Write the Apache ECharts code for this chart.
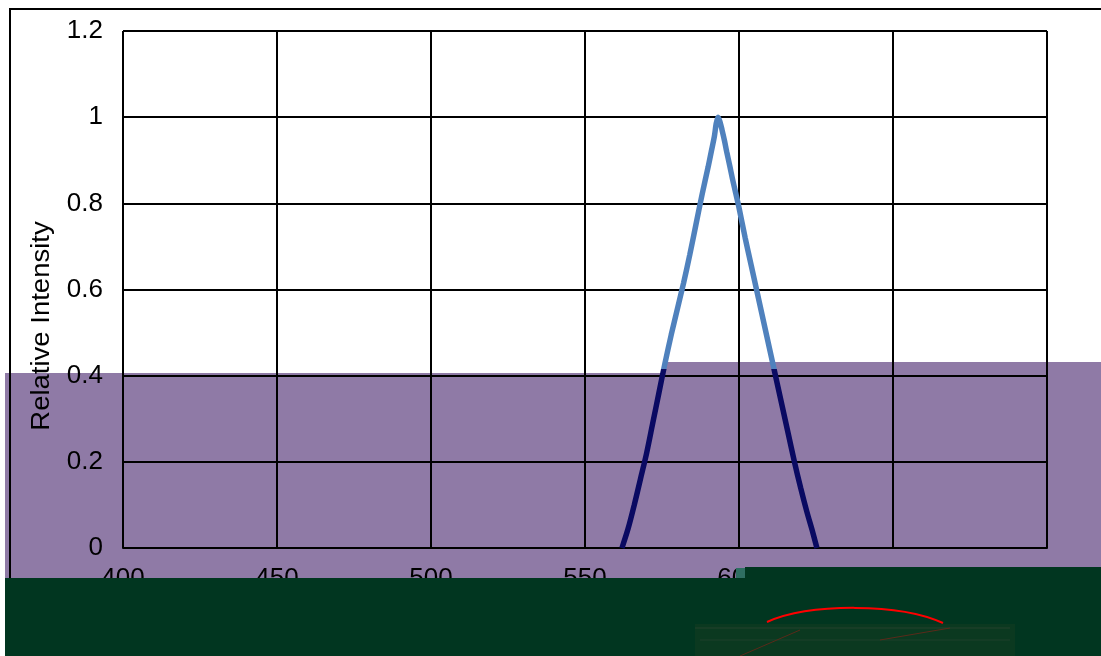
<!DOCTYPE html>
<html>
<head>
<meta charset="utf-8">
<script src="https://cdn.jsdelivr.net/npm/echarts@6/dist/echarts.min.js"></script>
<style>html,body{margin:0;padding:0;background:#fff}#c{width:1101px;height:656px}</style>
</head>
<body>
<div id="c"></div>
<script>
// Wavelength (nm)
var wavelengths = [562, 564, 566, 568, 570, 572, 574, 576, 578, 580, 582, 584, 586, 588, 590, 591, 592, 592.6, 593.2, 593.8, 594.5, 595.3, 596, 597, 598, 600, 602, 604, 606, 608, 610, 612, 614, 616, 618, 620, 622, 624, 625.3];
// Relative intensity
var intensity = [0, 0.045, 0.1, 0.16, 0.22, 0.29, 0.36, 0.43, 0.495, 0.555, 0.615, 0.68, 0.75, 0.82, 0.885, 0.92, 0.955, 0.985, 1.0, 0.99, 0.97, 0.945, 0.92, 0.887, 0.853, 0.79, 0.72, 0.655, 0.59, 0.525, 0.46, 0.395, 0.33, 0.265, 0.2, 0.14, 0.085, 0.035, 0];
var xTicks = [400, 450, 500, 550, 600, 650, 700];
var yTicks = [0, 0.2, 0.4, 0.6, 0.8, 1, 1.2];
var yAxisTitle = 'Relative Intensity';
var colorSplitValue = 0.415;

var data = wavelengths.map(function (w, i) { return [w, intensity[i]]; });
var chart = echarts.init(document.getElementById('c'), null, {renderer: 'canvas'});
var font = '"Liberation Sans", Arial, sans-serif';
chart.setOption({
  backgroundColor: '#ffffff',
  animation: false,
  grid: {left: 123, right: 54, top: 31, bottom: 108},
  xAxis: {
    type: 'value', min: xTicks[0], max: xTicks[xTicks.length - 1], interval: 50, z: 3,
    axisLine: {show: true, lineStyle: {color: '#000', width: 2}},
    axisTick: {show: false},
    splitLine: {show: true, lineStyle: {color: '#000', width: 2}},
    axisLabel: {fontSize: 26, color: '#000', fontFamily: font, margin: 18}
  },
  yAxis: {
    type: 'value', min: yTicks[0], max: yTicks[yTicks.length - 1], interval: 0.2, z: 3,
    axisLine: {show: false},
    axisTick: {show: false},
    splitLine: {show: true, lineStyle: {color: '#000', width: 2}},
    axisLabel: {fontSize: 26, color: '#000', fontFamily: font, margin: 20,
      formatter: function (v) { return String(+v.toFixed(1)); }}
  },
  series: [{
    type: 'line', data: data, smooth: 0.3, showSymbol: false, z: 5,
    lineStyle: {width: 5.5, color: '#4f81bd'}
  }],
  graphic: [
    {type: 'rect', z: 1, shape: {x: 5, y: 373, width: 662, height: 283}, style: {fill: '#8f7aa6'}, silent: true},
    {type: 'rect', z: 1, shape: {x: 665, y: 362, width: 440, height: 294}, style: {fill: '#8f7aa6'}, silent: true},
    {type: 'rect', z: 2, shape: {x: 10, y: 9, width: 1200, height: 700}, style: {fill: 'none', stroke: '#000', lineWidth: 2}, silent: true},
    {type: 'text', z: 4, x: 42, y: 326, rotation: Math.PI / 2, scaleX: 1.1,
      style: {text: yAxisTitle, fontSize: 25, fontFamily: font, fill: '#000', textAlign: 'center', textVerticalAlign: 'middle'}},
    {type: 'rect', z: 20, shape: {x: 5, y: 578, width: 1100, height: 80}, style: {fill: '#013620'}, silent: true},
    {type: 'rect', z: 20, shape: {x: 745, y: 567, width: 360, height: 12}, style: {fill: '#013620'}, silent: true},
    {type: 'rect', z: 21, shape: {x: 736, y: 568, width: 9, height: 10}, style: {fill: '#2f6e62'}, silent: true},
    {type: 'rect', z: 21, shape: {x: 695, y: 624, width: 320, height: 32}, style: {fill: '#0b3920'}, silent: true},
    {type: 'line', z: 22, shape: {x1: 695, y1: 628, x2: 1010, y2: 628}, style: {stroke: '#24432c', lineWidth: 1}, silent: true},
    {type: 'line', z: 22, shape: {x1: 700, y1: 640, x2: 1010, y2: 640}, style: {stroke: '#1f402a', lineWidth: 1}, silent: true},
    {type: 'line', z: 22, shape: {x1: 740, y1: 656, x2: 800, y2: 630}, style: {stroke: '#5a2a1a', lineWidth: 1}, silent: true},
    {type: 'line', z: 22, shape: {x1: 880, y1: 640, x2: 950, y2: 628}, style: {stroke: '#5a2a1a', lineWidth: 1}, silent: true},
    {type: 'bezierCurve', z: 23, shape: {x1: 767, y1: 622, x2: 943, y2: 623, cpx1: 810, cpy1: 603, cpx2: 900, cpy2: 603},
      style: {stroke: '#ff0000', lineWidth: 2, fill: 'none'}, silent: true}
  ]
});
// colour the part of the curve below the split value dark navy (through the axis scale)
var ySplit = chart.convertToPixel({gridIndex: 0}, [600, colorSplitValue])[1];
var stop = ySplit / 656;
chart.setOption({
  series: [{
    lineStyle: {color: new echarts.graphic.LinearGradient(0, 0, 0, 656, [
      {offset: 0, color: '#4f81bd'}, {offset: stop, color: '#4f81bd'},
      {offset: stop, color: '#0a0a62'}, {offset: 1, color: '#0a0a62'}
    ], true)}
  }]
});
</script>
</body>
</html>
